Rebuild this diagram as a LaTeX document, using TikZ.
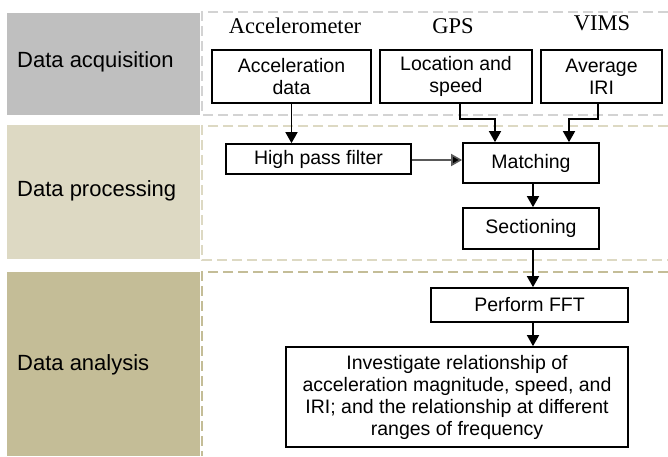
\documentclass[tikz,border=0pt]{standalone}
\usepackage{fontspec}
\setmainfont{Liberation Serif}
\setsansfont{Liberation Sans}
\usetikzlibrary{arrows.meta}
\definecolor{bandA}{HTML}{BFBFBF}
\definecolor{bandB}{HTML}{DDD9C3}
\definecolor{bandC}{HTML}{C4BD97}
\definecolor{dashA}{HTML}{D3D3D3}
\tikzset{
  band/.style={draw=none, anchor=north west, inner sep=0pt},
  bandlabel/.style={anchor=west, font=\sffamily\fontsize{22}{26}\selectfont, inner sep=0pt},
  devlabel/.style={font=\rmfamily\fontsize{22.5}{26}\selectfont, inner sep=0pt},
  stepbox/.style={draw=black, line width=1.7pt, fill=white, align=center, inner sep=1pt,
    font=\sffamily\fontsize{19.5}{22}\selectfont},
  arr/.style={line width=1.6pt, -{Triangle[width=12pt,length=11pt]}},
  arrg/.style={line width=1.6pt, draw=black!65, -{Triangle[width=12pt,length=11pt,fill=black]}},
  zone/.style={line width=1.5pt, dash pattern=on 10pt off 5pt},
}
\begin{document}
\begin{tikzpicture}[x=1pt,y=-1pt]
\useasboundingbox (0,0) rectangle (668,456);

% stage bands on the left
\node[band, fill=bandA, minimum width=193pt, minimum height=102pt] (bacq) at (7,13) {};
\node[band, fill=bandB, minimum width=193pt, minimum height=134pt] (bproc) at (7,125) {};
\node[band, fill=bandC, minimum width=193pt, minimum height=184pt] (bana) at (7,272) {};
\node[bandlabel] (lacq) at (17,62) {Data acquisition};
\node[bandlabel] (lproc) at (17,191) {Data processing};
\node[bandlabel] (lana) at (17,365) {Data analysis};

% dashed zone outlines
\draw[zone, draw=dashA] (668,12) -- (202,12) -- (202,115) -- (668,115);
\draw[zone, draw=bandB] (668,126) -- (202,126) -- (202,260) -- (668,260);
\draw[zone, draw=bandC] (668,272) -- (202,272) -- (202,456);

% data sources
\node[devlabel] (dacc) at (295,26) {Accelerometer};
\node[devlabel] (dgps) at (453,26) {GPS};
\node[devlabel] (dvims) at (602,23) {VIMS};

% steps
\node[stepbox, minimum width=159pt, minimum height=53pt] (acc) at (291.5,76.5) {Acceleration\\data};
\node[stepbox, minimum width=152pt, minimum height=53pt] (loc) at (456,76.5) {Location and\\speed};
\node[stepbox, minimum width=121pt, minimum height=53pt] (iri) at (601.5,76.5) {Average\\IRI};
\node[stepbox, minimum width=185pt, minimum height=30pt] (hpf) at (318.5,159) {High pass filter};
\node[stepbox, minimum width=136pt, minimum height=40pt] (match) at (531,163) {Matching};
\node[stepbox, minimum width=136pt, minimum height=41pt] (sect) at (531,228.5) {Sectioning};
\node[stepbox, minimum width=197pt, minimum height=34pt] (fft) at (529.5,305) {Perform FFT};
\node[stepbox, minimum width=342pt, minimum height=100pt] (inv) at (457,397)
  {Investigate relationship of\\acceleration magnitude, speed, and\\IRI; and the relationship at different\\ranges of frequency};

% connectors
\draw[arr] (acc.south) -- (acc.south |- hpf.north);
\draw[arr] ([xshift=4pt]loc.south) -- ++(0,15) -| ([xshift=-36pt]match.north);
\draw[arr] ([xshift=-3.5pt]iri.south) -- ++(0,15) -| ([xshift=38pt]match.north);
\draw[arrg] ([yshift=-1pt]hpf.east) -- ([yshift=-1pt]hpf.east -| match.west);
\draw[arr] ([xshift=2pt]match.south) -- ([xshift=2pt]sect.north);
\draw[arr] ([xshift=2pt]sect.south) -- ([xshift=2pt]sect.south |- fft.north);
\draw[arr] ([xshift=3.5pt]fft.south) -- ([xshift=3.5pt]fft.south |- inv.north);
\end{tikzpicture}
\end{document}
